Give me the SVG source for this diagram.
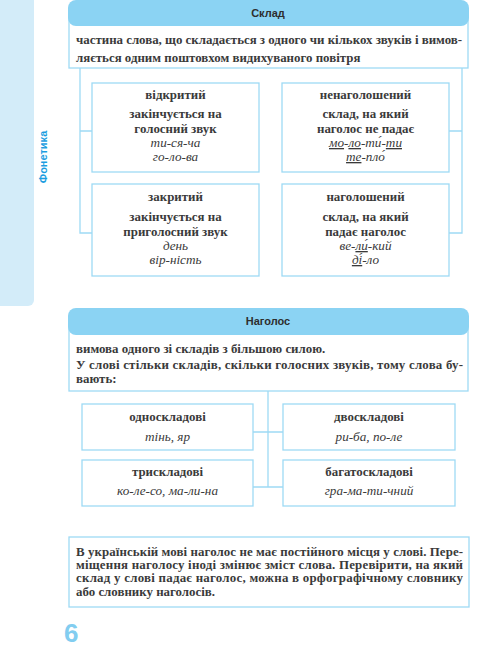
<svg xmlns="http://www.w3.org/2000/svg" width="488" height="650" viewBox="0 0 488 650">
<style>
.hdr{fill:#8bd3f3}
.box{fill:#fff;stroke:#9edaf5;stroke-width:1.3}
.con{fill:none;stroke:#9edaf5;stroke-width:1.3}
.ht{font-weight:bold;font-size:11px;fill:#2e2e2e;text-anchor:middle}
.t{font-weight:bold;font-size:12.9px;fill:#3a3a3a}
.c{text-anchor:middle}
.i{font-style:italic;font-size:13.2px;fill:#3a3a3a;text-anchor:middle}
.u{text-decoration:underline}
</style>
<rect x="0" y="0" width="34" height="306" rx="6" fill="#d3ecf9"/>
<rect x="-10" y="0" width="20" height="306" fill="#d3ecf9"/>
<rect x="0" y="-10" width="34" height="20" fill="#d3ecf9"/>
<text transform="translate(47,157) rotate(-90)" font-family="Liberation Sans, Arial, sans-serif" font-weight="bold" font-size="11" fill="#1b9de0" text-anchor="middle">Фонетика</text>

<g id="connectors">
<path class="con" d="M80,68 V233 H92 M80,131 H92 M462,68 V233 H449 M462,131 H449"/>
<path class="con" d="M268,391 V487 M253,432 H283 M253,487 H283"/>
</g>

<g font-family="Liberation Serif, Times New Roman, serif">
<g id="sklad">
<rect class="box" x="69" y="18" width="399" height="50"/>
<rect class="hdr" x="68" y="0" width="401" height="26" rx="8"/>
<text class="ht" x="268" y="17" font-family="Liberation Sans, Arial, sans-serif">Склад</text>
<text class="t" x="76" y="44" textLength="386" lengthAdjust="spacing">частина слова, що складається з одного чи кількох звуків і вимов-</text>
<text class="t" x="76" y="62">ляється одним поштовхом видихуваного повітря</text>
</g>

<g id="vidkrytyi">
<rect class="box" x="92" y="83" width="167" height="89"/>
<text class="t c" x="175.5" y="99">відкритий</text>
<text class="t c" x="175.5" y="118">закінчується на</text>
<text class="t c" x="175.5" y="133">голосний звук</text>
<text class="i" x="175.5" y="147">ти-ся-ча</text>
<text class="i" x="175.5" y="161">го-ло-ва</text>
</g>

<g id="nenagoloshenyi">
<rect class="box" x="282" y="83" width="167" height="89"/>
<text class="t c" x="365.5" y="99">ненаголошений</text>
<text class="t c" x="365.5" y="118">склад, на який</text>
<text class="t c" x="365.5" y="133">наголос не падає</text>
<text class="i" x="365.5" y="147"><tspan class="u">мо</tspan>-<tspan class="u">ло</tspan>-ти́-<tspan class="u">ти</tspan></text>
<text class="i" x="365.5" y="161"><tspan class="u">те</tspan>-пло́</text>
</g>

<g id="zakrytyi">
<rect class="box" x="92" y="184" width="167" height="92"/>
<text class="t c" x="175.5" y="201">закритий</text>
<text class="t c" x="175.5" y="221">закінчується на</text>
<text class="t c" x="175.5" y="236">приголосний звук</text>
<text class="i" x="175.5" y="250">день</text>
<text class="i" x="175.5" y="264">вір-ність</text>
</g>

<g id="nagoloshenyi">
<rect class="box" x="282" y="184" width="167" height="92"/>
<text class="t c" x="365.5" y="201">наголошений</text>
<text class="t c" x="365.5" y="221">склад, на який</text>
<text class="t c" x="365.5" y="236">падає наголос</text>
<text class="i" x="365.5" y="250">ве-<tspan class="u">ли́</tspan>-кий</text>
<text class="i" x="365.5" y="264"><tspan class="u">ді́</tspan>-ло</text>
</g>

<g id="nagolos">
<rect class="box" x="69" y="326" width="399" height="65"/>
<rect class="hdr" x="68" y="308" width="401" height="27" rx="8"/>
<text class="ht" x="268" y="325" font-family="Liberation Sans, Arial, sans-serif">Наголос</text>
<text class="t" x="76" y="353">вимова одного зі складів з більшою силою.</text>
<text class="t" x="76" y="369" textLength="387" lengthAdjust="spacing">У слові стільки складів, скільки голосних звуків, тому слова бу-</text>
<text class="t" x="76" y="383">вають:</text>
</g>

<g id="odnoskladovi">
<rect class="box" x="82" y="404" width="171" height="46"/>
<text class="t c" x="167.5" y="421">односкладові</text>
<text class="i" x="167.5" y="441">тінь, яр</text>
</g>
<g id="dvoskladovi">
<rect class="box" x="283" y="404" width="172" height="46"/>
<text class="t c" x="369" y="421">двоскладові</text>
<text class="i" x="369" y="441">ри-ба, по-ле</text>
</g>
<g id="tryskladovi">
<rect class="box" x="82" y="460" width="171" height="46"/>
<text class="t c" x="167.5" y="476">трискладові</text>
<text class="i" x="167.5" y="495">ко-ле-со, ма-ли-на</text>
</g>
<g id="bagatoskladovi">
<rect class="box" x="283" y="460" width="172" height="46"/>
<text class="t c" x="369" y="476">багатоскладові</text>
<text class="i" x="369" y="495">гра-ма-ти-чний</text>
</g>

<g id="note">
<rect class="box" x="69" y="537" width="400" height="70"/>
<text class="t" x="76" y="556" textLength="387" lengthAdjust="spacing">В українській мові наголос не має постійного місця у слові. Пере-</text>
<text class="t" x="76" y="569" textLength="387" lengthAdjust="spacing">міщення наголосу іноді змінює зміст слова. Перевірити, на який</text>
<text class="t" x="76" y="582" textLength="387" lengthAdjust="spacing">склад у слові падає наголос, можна в орфографічному словнику</text>
<text class="t" x="76" y="596">або словнику наголосів.</text>
</g>
</g>

<text x="64" y="642" font-family="Liberation Sans, Arial, sans-serif" font-weight="bold" font-size="26" fill="#82cdf0">6</text>
</svg>
